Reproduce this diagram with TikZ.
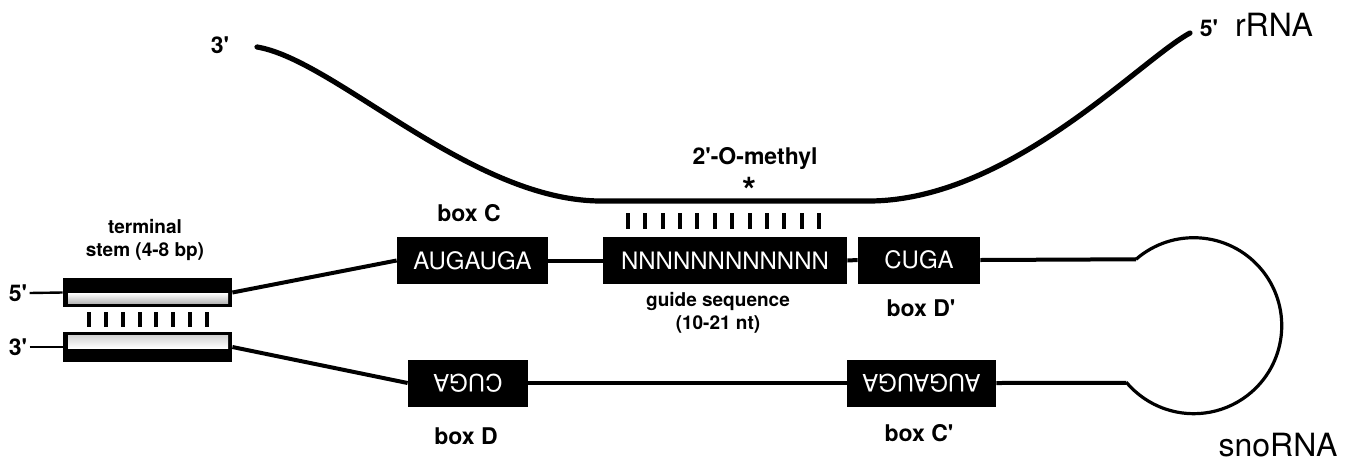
\documentclass[tikz,border=0pt]{standalone}
\usepackage{fontspec}
\setmainfont{TeX Gyre Heros}
\usepackage{graphicx}
\newcommand{\pr}{\textquotesingle}

\begin{document}
\begin{tikzpicture}[x=0.5pt, y=-0.5pt]

      \tikzset{rnabox/.style={fill=black, text=white, inner sep=0pt, minimum height=23.5pt, font=\fontsize{12}{14}\selectfont},
               stembox/.style={fill=black, inner sep=0pt, minimum width=84.5pt},
               lbl/.style={inner sep=1pt, font=\bfseries\fontsize{11.5}{14}\selectfont},
               small/.style={align=center, inner sep=0pt, font=\bfseries\fontsize{9.5}{11.5}\selectfont},
               big/.style={inner sep=0pt, font=\fontsize{16}{18}\selectfont},
               strand/.style={line width=2pt},
               pair/.style={line width=2pt},
               rrna/.style={line width=2.6pt, line cap=round}}
      \useasboundingbox (0,0) rectangle (1354,461);
%% rRNA
      	\coordinate (r3) at (257,47);
      	\coordinate (r5) at (1190,33);
      	\node[lbl] (r3lbl) at (220,45) {3\pr};
      	\node[lbl] (r5lbl) at (1209,28) {5\pr};
      	\node[big] (rrnalbl) at (1274,25) {rRNA};
      	\node[lbl] (methyl) at (755,158) {2\pr-O-methyl};
      	\node[inner sep=0pt, font=\bfseries\fontsize{18}{18}\selectfont] (star) at (749,190) {*};
		\draw[rrna] (r3) .. controls (335,60) and (470,200) .. (600,201) -- (870,201) .. controls (1010,200) and (1140,60) .. (r5);
%% terminal stem
      	\node[stembox, minimum height=14.5pt] (stem5) at (147.5,292.5) {};
      	\node[stembox, minimum height=15pt] (stem3) at (147.5,347) {};
      	\shade[top color=white, bottom color=gray!55] (68,293) rectangle (228,303);
      	\shade[top color=gray!35, bottom color=white] (68,335) rectangle (228,348);
      	\node[lbl] (end5) at (18,293) {5\pr};
      	\node[lbl] (end3) at (18,347) {3\pr};
      	\node[small] (stemlbl) at (145,240) {terminal\\stem (4-8 bp)};
		\foreach \i in {0,...,7}
			\draw[pair] ({89+\i*16.86},312) -- ({89+\i*16.86},327);
%% boxes
      	\node[rnabox, minimum width=75.5pt] (boxC) at (472.5,260.5) {AUGAUGA};
      	\node[rnabox, minimum width=122pt] (guide) at (725,260.5) {NNNNNNNNNNNN};
      	\node[rnabox, minimum width=61pt] (boxDp) at (919,260) {CUGA};
      	\node[rnabox, minimum width=60pt] (boxD) at (468,383) {\rotatebox{180}{CUGA}};
      	\node[rnabox, minimum width=74.5pt] (boxCp) at (921.5,383) {\rotatebox{180}{AUGAUGA}};
      	\node[circle, inner sep=0pt, minimum size=88pt] (loop) at (1194,326) {};
      	\node[lbl] (boxClbl) at (469,213) {box C};
      	\node[lbl] (boxDplbl) at (921,308) {box D\pr};
      	\node[lbl] (boxDlbl) at (466,436) {box D};
      	\node[lbl] (boxCplbl) at (919,433) {box C\pr};
      	\node[small] (guidelbl) at (718,313) {guide sequence\\(10-21 nt)};
      	\node[big] (snolbl) at (1278,445) {snoRNA};
		\foreach \i in {0,...,11}
			\draw[pair] ({628+\i*17.36},213) -- ({628+\i*17.36},229);
%Strands
		\path [line width=1.2pt] (end5.east) edge (stem5.west);
		\path [line width=1.2pt] (end3.east) edge (stem3.west);
		\path [strand] (stem5.east) edge (boxC.west);
		\path [strand] (boxC.east) edge (guide.west);
		\path [strand] (guide.east) edge (boxDp.west);
		\path [strand] (boxDp.east) edge (loop.131);
		\path [strand] (stem3.east) edge (boxD.west);
		\path [strand] (boxD.east) edge (boxCp.west);
		\path [strand] (boxCp.east) edge (loop.220);
		\draw [line width=1.6pt] (loop.131) arc[start angle=131, end angle=-140, radius=44pt];

	\end{tikzpicture}
\end{document}
